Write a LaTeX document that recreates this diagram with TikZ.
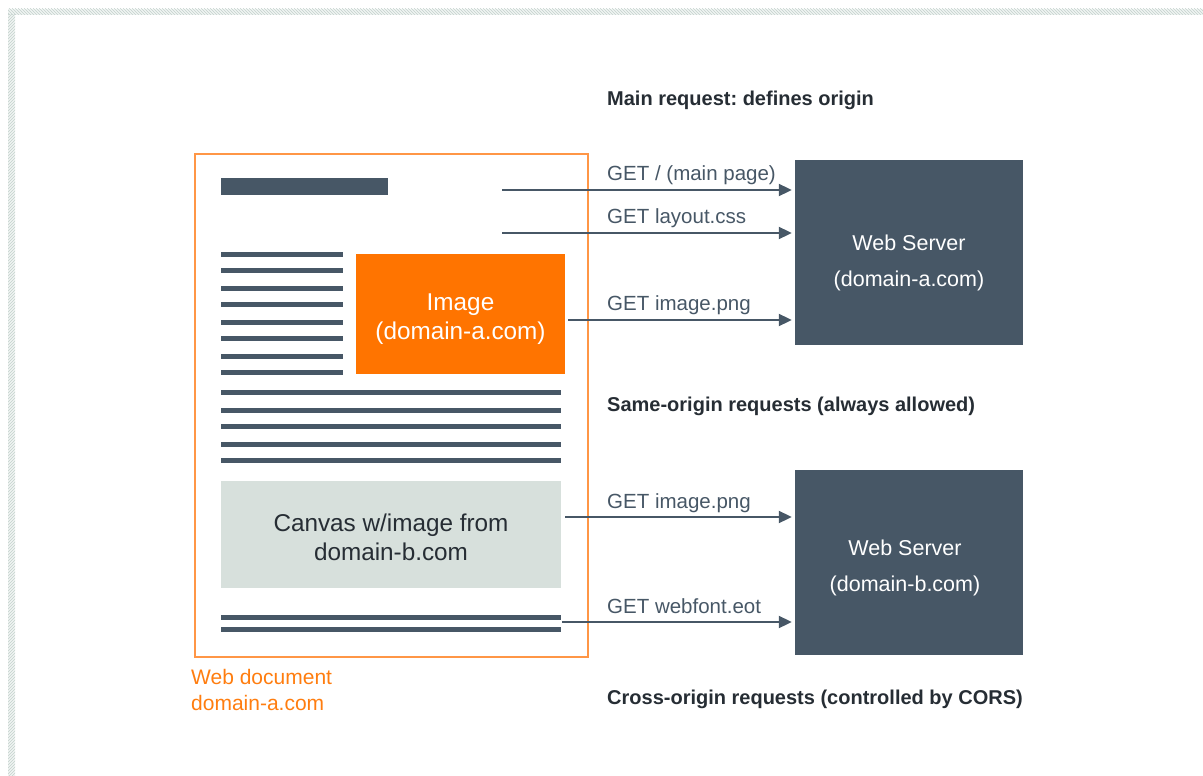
\documentclass[tikz,border=0pt]{standalone}
\usepackage{fontspec}
\setmainfont{Liberation Sans}
\frenchspacing
\usetikzlibrary{arrows.meta}
\usetikzlibrary{patterns}

\definecolor{slate}{RGB}{71,87,102}
\definecolor{inkdark}{RGB}{38,45,52}
\definecolor{imgorange}{RGB}{255,116,0}
\definecolor{frameorange}{RGB}{255,150,70}
\definecolor{docorange}{RGB}{255,125,15}
\definecolor{canvasgray}{RGB}{215,224,220}
\definecolor{hatch}{RGB}{196,210,205}

\begin{document}
\begin{tikzpicture}[x=1pt,y=-1pt]
    \tikzstyle{server}   = [rectangle, fill=slate, minimum width=228pt, minimum height=185pt, inner sep=0pt]
    \tikzstyle{imagebox} = [rectangle, fill=imgorange, minimum width=209pt, minimum height=120pt, inner sep=0pt]
    \tikzstyle{canvasbox}= [rectangle, fill=canvasgray, minimum width=340pt, minimum height=107pt, inner sep=0pt]
    \tikzstyle{docframe} = [rectangle, draw=frameorange, line width=1.2pt, minimum width=393pt, minimum height=503pt, inner sep=0pt]
    \tikzstyle{titlebar} = [rectangle, fill=slate, minimum width=167pt, minimum height=17pt, inner sep=0pt]
    \tikzstyle{textline} = [slate, line width=5pt]

    \tikzstyle{req}      = [-{Triangle[length=13pt,width=12pt]}, slate, line width=2pt, shorten >=3pt]
    \tikzstyle{getlabel} = [anchor=base west, inner sep=0pt, text=slate, font=\fontsize{20.5}{24}\selectfont]
    \tikzstyle{heading}  = [anchor=base west, inner sep=0pt, text=inkdark, font=\fontsize{20}{24}\selectfont\bfseries]
    \tikzstyle{srvtext}  = [anchor=base, inner sep=0pt, text=white, font=\fontsize{21.5}{24}\selectfont]
    \tikzstyle{boxtext}  = [anchor=base, inner sep=0pt, font=\fontsize{24.3}{28}\selectfont]
    \tikzstyle{doctext}  = [anchor=base west, inner sep=0pt, text=docorange, font=\fontsize{21}{24}\selectfont]

    \useasboundingbox (0,0) rectangle (1203,776);

    \fill[hatch!25] (8,9) rectangle (1203,15);
    \fill[hatch!25] (8,15) rectangle (15,776);
    \fill[pattern=north west lines, pattern color=hatch] (8,9) rectangle (1203,15);
    \fill[pattern=north east lines, pattern color=hatch] (8,15) rectangle (15,776);

    \node[docframe]  (doc)    at (391.5,405.5) {};
    \node[titlebar]  (title)  at (304.5,186.5) {};
    \node[imagebox]  (img)    at (460.5,314)   {};
    \node[canvasbox] (canvas) at (391,534.5)   {};
    \node[server]    (srva)   at (909,252.5)   {};
    \node[server]    (srvb)   at (909,562.5)   {};

    \foreach \y in {254.5,270.5,288.5,304.5,322.5,338.5,356.5,372.5}
        \draw[textline] (221,\y) -- (343,\y);
    \foreach \y in {392.3,410.3,426.3,444.3,460.3,617.3,629.3}
        \draw[textline] (221,\y) -- (561,\y);

    \node[boxtext, text=white]   (imgt1) at (460.5,310) {Image};
    \node[boxtext, text=white]   (imgt2) at (460.5,339) {(domain-a.com)};
    \node[boxtext, text=inkdark] (cvt1)  at (391,531)   {Canvas w/image from};
    \node[boxtext, text=inkdark] (cvt2)  at (391,560)   {domain-b.com};

    \node[srvtext] (sa1) at (909,250) {Web Server};
    \node[srvtext] (sa2) at (909,286) {(domain-a.com)};
    \node[srvtext] (sb1) at (905,555) {Web Server};
    \node[srvtext] (sb2) at (905,591) {(domain-b.com)};

    \node[doctext] (dl1) at (191,684) {Web document};
    \node[doctext] (dl2) at (191,710) {domain-a.com};

    \node[heading] (h1) at (607,106) {Main request: defines origin};
    \node[heading] (h2) at (607,411) {Same-origin requests (always allowed)};
    \node[heading] (h3) at (607,704) {Cross-origin requests (controlled by CORS)};

    \coordinate (r1) at (502,190);
    \coordinate (r2) at (502,233);
    \coordinate (r3) at (568,320);
    \coordinate (r4) at (565,517);
    \coordinate (r5) at (562,622);

    \draw[req] (r1) -- (r1 -| srva.west);
    \draw[req] (r2) -- (r2 -| srva.west);
    \draw[req] (r3) -- (r3 -| srva.west);
    \draw[req] (r4) -- (r4 -| srvb.west);
    \draw[req] (r5) -- (r5 -| srvb.west);

    \node[getlabel] (g1) at (607,180) {GET / (main page)};
    \node[getlabel] (g2) at (607,223) {GET layout.css};
    \node[getlabel] (g3) at (607,310) {GET image.png};
    \node[getlabel] (g4) at (607,508) {GET image.png};
    \node[getlabel] (g5) at (607,613) {GET webfont.eot};
\end{tikzpicture}
\end{document}
